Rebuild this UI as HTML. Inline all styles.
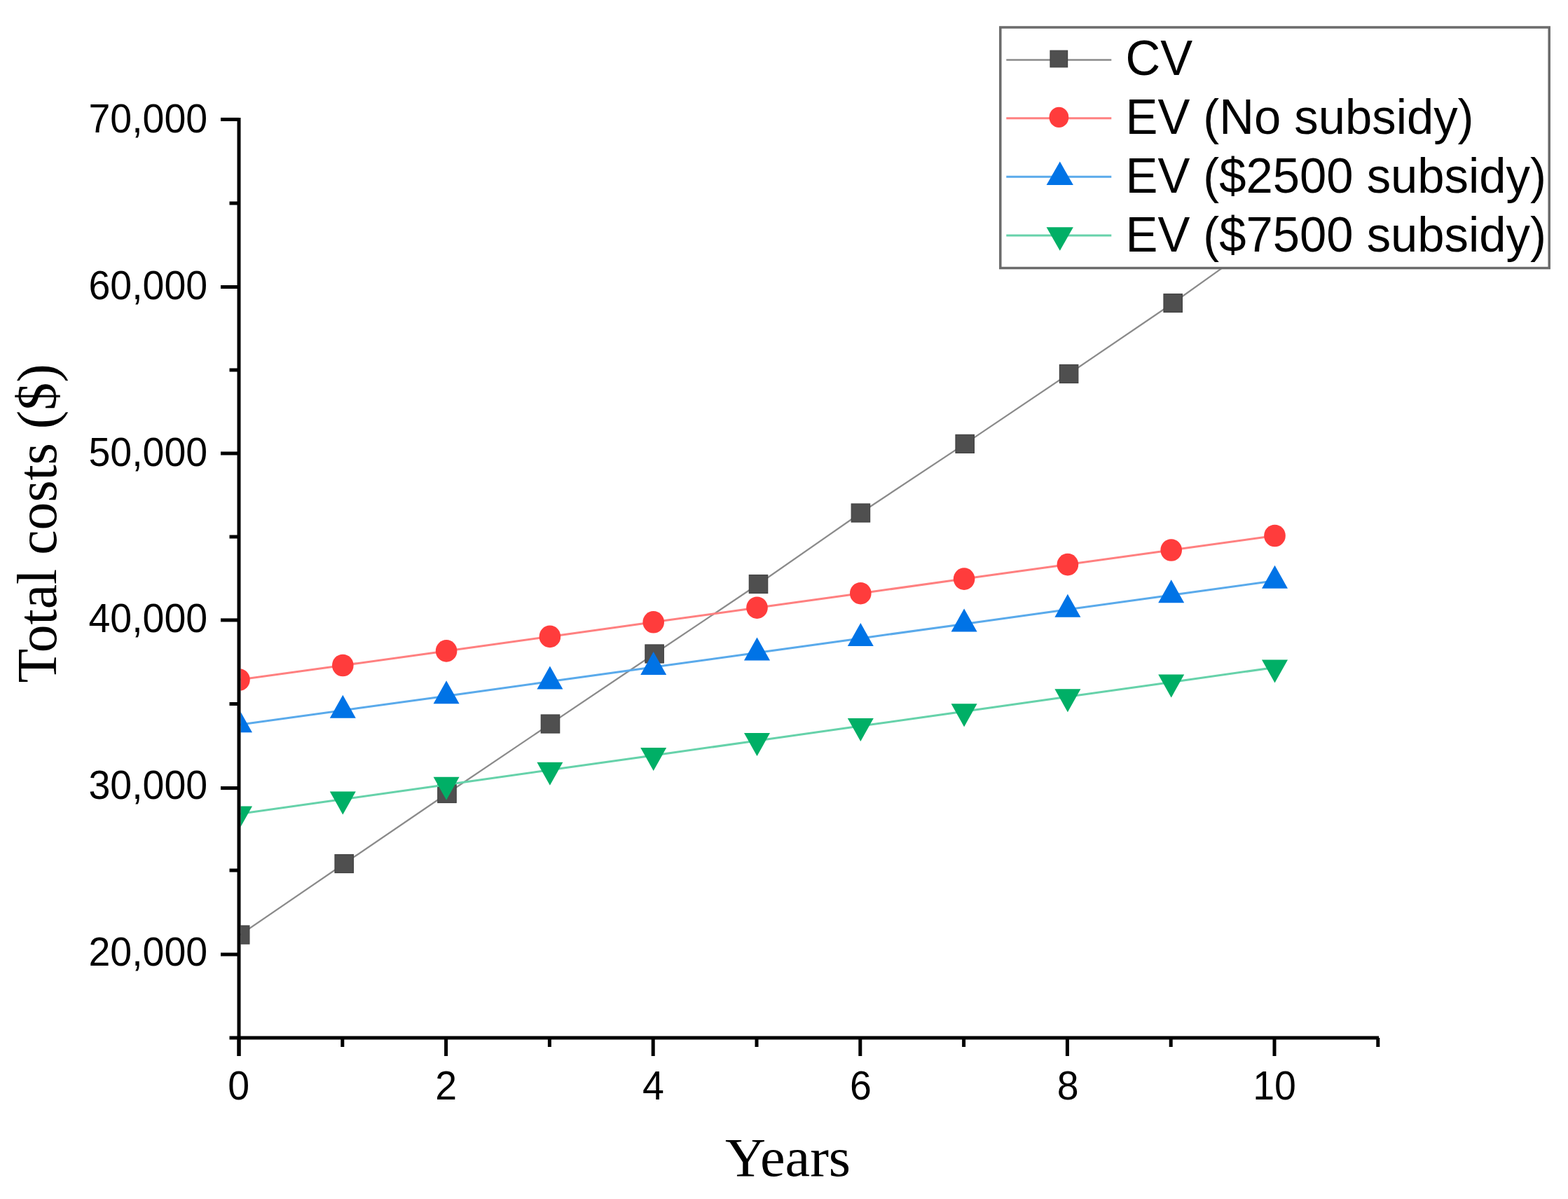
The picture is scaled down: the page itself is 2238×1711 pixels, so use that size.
<!DOCTYPE html><html><head><meta charset="utf-8"><title>Total costs chart</title><style>html,body{margin:0;padding:0;background:#fff;}body{width:2238px;height:1711px;overflow:hidden;}svg{display:block;}text{font-family:"Liberation Sans",Arial,sans-serif;fill:#000;}.serif{font-family:"Liberation Serif","Times New Roman",serif;}</style></head><body>
<svg width="2238" height="1711" viewBox="0 0 2238 1711">
<rect x="0" y="0" width="2238" height="1711" fill="#fff"/>
<defs><clipPath id="pa"><rect x="343.5" y="0" width="1700" height="1478.5"/></clipPath></defs>
<g clip-path="url(#pa)">
<polyline points="342.7,1334.0 491.2,1232.5 638.0,1132.5 785.5,1033.0 934.1,933.0 1082.5,833.5 1228.4,732.0 1377.2,633.4 1525.6,533.5 1674.2,432.5 1822.0,327.0" fill="none" stroke="#8a8a8a" stroke-width="2.2" stroke-linejoin="round"/>
<rect x="329.5" y="1321.0" width="26.4" height="26" fill="#4f4f4f" stroke="#414141" stroke-width="1.2"/>
<rect x="478.0" y="1219.5" width="26.4" height="26" fill="#4f4f4f" stroke="#414141" stroke-width="1.2"/>
<rect x="624.8" y="1119.5" width="26.4" height="26" fill="#4f4f4f" stroke="#414141" stroke-width="1.2"/>
<rect x="772.3" y="1020.0" width="26.4" height="26" fill="#4f4f4f" stroke="#414141" stroke-width="1.2"/>
<rect x="920.9" y="920.0" width="26.4" height="26" fill="#4f4f4f" stroke="#414141" stroke-width="1.2"/>
<rect x="1069.3" y="820.5" width="26.4" height="26" fill="#4f4f4f" stroke="#414141" stroke-width="1.2"/>
<rect x="1215.2" y="719.0" width="26.4" height="26" fill="#4f4f4f" stroke="#414141" stroke-width="1.2"/>
<rect x="1364.0" y="620.4" width="26.4" height="26" fill="#4f4f4f" stroke="#414141" stroke-width="1.2"/>
<rect x="1512.4" y="520.5" width="26.4" height="26" fill="#4f4f4f" stroke="#414141" stroke-width="1.2"/>
<rect x="1661.0" y="419.5" width="26.4" height="26" fill="#4f4f4f" stroke="#414141" stroke-width="1.2"/>
<rect x="1808.8" y="314.0" width="26.4" height="26" fill="#4f4f4f" stroke="#414141" stroke-width="1.2"/>
<polyline points="341.5,970.0 489.3,949.5 637.1,928.9 784.9,908.4 932.7,887.8 1080.5,867.2 1228.3,846.7 1376.1,826.1 1523.9,805.6 1671.7,785.0 1819.5,764.5" fill="none" stroke="#ff8080" stroke-width="3"/>
<ellipse cx="341.5" cy="970.0" rx="15.3" ry="15.8" fill="#ff3c3c"/>
<ellipse cx="489.3" cy="949.5" rx="15.3" ry="15.8" fill="#ff3c3c"/>
<ellipse cx="637.1" cy="928.9" rx="15.3" ry="15.8" fill="#ff3c3c"/>
<ellipse cx="784.9" cy="908.4" rx="15.3" ry="15.8" fill="#ff3c3c"/>
<ellipse cx="932.7" cy="887.8" rx="15.3" ry="15.8" fill="#ff3c3c"/>
<ellipse cx="1080.5" cy="867.2" rx="15.3" ry="15.8" fill="#ff3c3c"/>
<ellipse cx="1228.3" cy="846.7" rx="15.3" ry="15.8" fill="#ff3c3c"/>
<ellipse cx="1376.1" cy="826.1" rx="15.3" ry="15.8" fill="#ff3c3c"/>
<ellipse cx="1523.9" cy="805.6" rx="15.3" ry="15.8" fill="#ff3c3c"/>
<ellipse cx="1671.7" cy="785.0" rx="15.3" ry="15.8" fill="#ff3c3c"/>
<ellipse cx="1819.5" cy="764.5" rx="15.3" ry="15.8" fill="#ff3c3c"/>
<polyline points="341.5,1034.3 489.3,1013.7 637.1,993.2 784.9,972.6 932.7,952.1 1080.5,931.5 1228.3,910.9 1376.1,890.4 1523.9,869.8 1671.7,849.3 1819.5,828.7" fill="none" stroke="#5aaaeb" stroke-width="3"/>
<polygon points="341.5,1012.3 360.0,1045.3 323.0,1045.3" fill="#0073e6"/>
<polygon points="489.3,991.7 507.8,1024.7 470.8,1024.7" fill="#0073e6"/>
<polygon points="637.1,971.2 655.6,1004.2 618.6,1004.2" fill="#0073e6"/>
<polygon points="784.9,950.6 803.4,983.6 766.4,983.6" fill="#0073e6"/>
<polygon points="932.7,930.1 951.2,963.1 914.2,963.1" fill="#0073e6"/>
<polygon points="1080.5,909.5 1099.0,942.5 1062.0,942.5" fill="#0073e6"/>
<polygon points="1228.3,888.9 1246.8,921.9 1209.8,921.9" fill="#0073e6"/>
<polygon points="1376.1,868.4 1394.6,901.4 1357.6,901.4" fill="#0073e6"/>
<polygon points="1523.9,847.8 1542.4,880.8 1505.4,880.8" fill="#0073e6"/>
<polygon points="1671.7,827.3 1690.2,860.3 1653.2,860.3" fill="#0073e6"/>
<polygon points="1819.5,806.7 1838.0,839.7 1801.0,839.7" fill="#0073e6"/>
<polyline points="341.5,1161.5 489.3,1140.6 637.1,1119.7 784.9,1098.8 932.7,1077.9 1080.5,1057.0 1228.3,1036.1 1376.1,1015.2 1523.9,994.3 1671.7,973.4 1819.5,952.5" fill="none" stroke="#66d2aa" stroke-width="3"/>
<polygon points="341.5,1183.5 360.0,1150.5 323.0,1150.5" fill="#00af66"/>
<polygon points="489.3,1162.6 507.8,1129.6 470.8,1129.6" fill="#00af66"/>
<polygon points="637.1,1141.7 655.6,1108.7 618.6,1108.7" fill="#00af66"/>
<polygon points="784.9,1120.8 803.4,1087.8 766.4,1087.8" fill="#00af66"/>
<polygon points="932.7,1099.9 951.2,1066.9 914.2,1066.9" fill="#00af66"/>
<polygon points="1080.5,1079.0 1099.0,1046.0 1062.0,1046.0" fill="#00af66"/>
<polygon points="1228.3,1058.1 1246.8,1025.1 1209.8,1025.1" fill="#00af66"/>
<polygon points="1376.1,1037.2 1394.6,1004.2 1357.6,1004.2" fill="#00af66"/>
<polygon points="1523.9,1016.3 1542.4,983.3 1505.4,983.3" fill="#00af66"/>
<polygon points="1671.7,995.4 1690.2,962.4 1653.2,962.4" fill="#00af66"/>
<polygon points="1819.5,974.5 1838.0,941.5 1801.0,941.5" fill="#00af66"/>
</g>
<path d="M341,168 V1507" stroke="#000" stroke-width="5" fill="none"/>
<path d="M327.5,1481 H1968" stroke="#000" stroke-width="5" fill="none"/>
<path d="M315,170.4 H341" stroke="#000" stroke-width="5" fill="none"/>
<path d="M315,409.5 H341" stroke="#000" stroke-width="5" fill="none"/>
<path d="M315,647.0 H341" stroke="#000" stroke-width="5" fill="none"/>
<path d="M315,884.9 H341" stroke="#000" stroke-width="5" fill="none"/>
<path d="M315,1124.6 H341" stroke="#000" stroke-width="5" fill="none"/>
<path d="M315,1362.0 H341" stroke="#000" stroke-width="5" fill="none"/>
<path d="M327.5,290.0 H341" stroke="#000" stroke-width="5" fill="none"/>
<path d="M327.5,528.0 H341" stroke="#000" stroke-width="5" fill="none"/>
<path d="M327.5,766.0 H341" stroke="#000" stroke-width="5" fill="none"/>
<path d="M327.5,1004.5 H341" stroke="#000" stroke-width="5" fill="none"/>
<path d="M327.5,1242.0 H341" stroke="#000" stroke-width="5" fill="none"/>
<path d="M341.0,1481 V1507" stroke="#000" stroke-width="5" fill="none"/>
<path d="M636.6,1481 V1507" stroke="#000" stroke-width="5" fill="none"/>
<path d="M932.2,1481 V1507" stroke="#000" stroke-width="5" fill="none"/>
<path d="M1227.8,1481 V1507" stroke="#000" stroke-width="5" fill="none"/>
<path d="M1523.4,1481 V1507" stroke="#000" stroke-width="5" fill="none"/>
<path d="M1819.0,1481 V1507" stroke="#000" stroke-width="5" fill="none"/>
<path d="M488.8,1481 V1494" stroke="#000" stroke-width="5" fill="none"/>
<path d="M784.4,1481 V1494" stroke="#000" stroke-width="5" fill="none"/>
<path d="M1080.0,1481 V1494" stroke="#000" stroke-width="5" fill="none"/>
<path d="M1375.6,1481 V1494" stroke="#000" stroke-width="5" fill="none"/>
<path d="M1671.2,1481 V1494" stroke="#000" stroke-width="5" fill="none"/>
<path d="M1966.8,1481 V1494" stroke="#000" stroke-width="5" fill="none"/>
<text transform="translate(296.2,189.3) scale(1,1.03)" font-size="55.5" text-anchor="end">70,000</text>
<text transform="translate(296.2,427.0) scale(1,1.03)" font-size="55.5" text-anchor="end">60,000</text>
<text transform="translate(296.2,664.7) scale(1,1.03)" font-size="55.5" text-anchor="end">50,000</text>
<text transform="translate(296.2,902.4) scale(1,1.03)" font-size="55.5" text-anchor="end">40,000</text>
<text transform="translate(296.2,1140.1) scale(1,1.03)" font-size="55.5" text-anchor="end">30,000</text>
<text transform="translate(296.2,1377.8) scale(1,1.03)" font-size="55.5" text-anchor="end">20,000</text>
<text transform="translate(340.7,1568.7) scale(1,1.03)" font-size="55.5" text-anchor="middle">0</text>
<text transform="translate(636.6,1568.7) scale(1,1.03)" font-size="55.5" text-anchor="middle">2</text>
<text transform="translate(932.4,1568.7) scale(1,1.03)" font-size="55.5" text-anchor="middle">4</text>
<text transform="translate(1228.3,1568.7) scale(1,1.03)" font-size="55.5" text-anchor="middle">6</text>
<text transform="translate(1524.1,1568.7) scale(1,1.03)" font-size="55.5" text-anchor="middle">8</text>
<text transform="translate(1819.0,1568.7) scale(1,1.03)" font-size="55.5" text-anchor="middle">10</text>
<text class="serif" x="1035" y="1678" font-size="79" textLength="179.1" lengthAdjust="spacingAndGlyphs">Years</text>
<text class="serif" transform="translate(79.5,974.5) rotate(-90)" x="0" y="0" font-size="81" textLength="455.2" lengthAdjust="spacingAndGlyphs">Total costs ($)</text>
<rect x="1427.8" y="39" width="783.4" height="343.5" fill="#fff" stroke="#6b6b6b" stroke-width="3.5"/>
<path d="M1436.3,85.5 H1586.3" stroke="#8a8a8a" stroke-width="2.4" fill="none"/>
<path d="M1436.3,168.7 H1586.3" stroke="#ff8080" stroke-width="3" fill="none"/>
<path d="M1436.3,252.2 H1586.3" stroke="#5aaaeb" stroke-width="3" fill="none"/>
<path d="M1436.3,336 H1586.3" stroke="#66d2aa" stroke-width="3" fill="none"/>
<rect x="1499" y="72.2" width="24.6" height="23.6" fill="#4f4f4f" stroke="#414141" stroke-width="1.2"/>
<ellipse cx="1511.4" cy="167.4" rx="13.9" ry="14.6" fill="#ff3c3c"/>
<polygon points="1512.8,230.6 1531.9,264 1493.6,264" fill="#0073e6"/>
<polygon points="1512.8,357.7 1531.9,324.2 1493.6,324.2" fill="#00af66"/>
<text transform="translate(1606.5,107.1) scale(1,1.03)" font-size="68.8">CV</text>
<text transform="translate(1606.5,191.1) scale(1,1.03)" font-size="68.8">EV (No subsidy)</text>
<text transform="translate(1606.5,275.1) scale(1,1.03)" font-size="68.8">EV ($2500 subsidy)</text>
<text transform="translate(1606.5,359.1) scale(1,1.03)" font-size="68.8">EV ($7500 subsidy)</text>
</svg></body></html>
